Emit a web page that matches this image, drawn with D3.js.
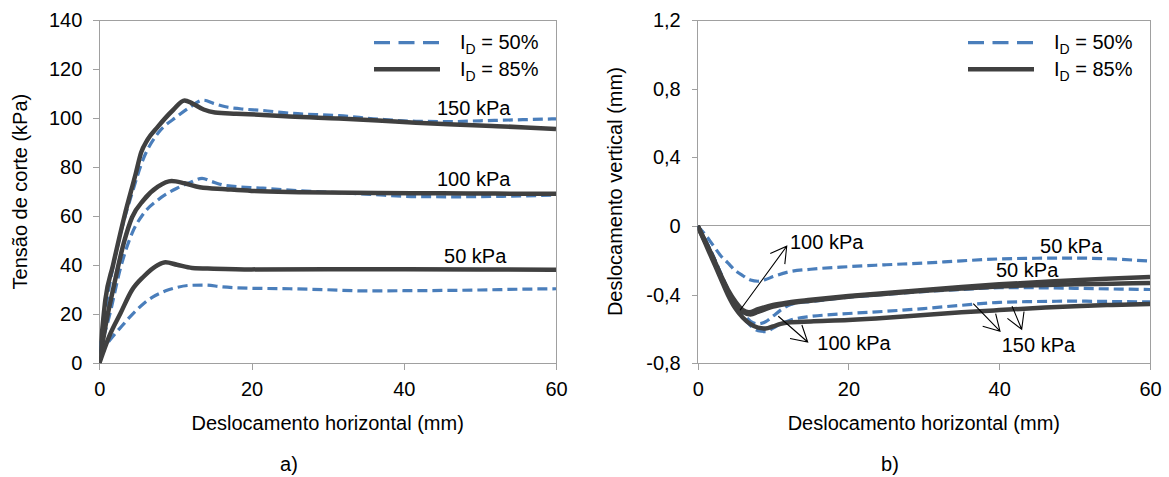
<!DOCTYPE html>
<html>
<head>
<meta charset="utf-8">
<script src="https://cdn.jsdelivr.net/npm/d3@7"></script>
<style>
  body { margin: 0; background: #fff; }
  svg { display: block; }
  text { font-family: "Liberation Sans", Arial, sans-serif; fill: #000; }
</style>
</head>
<body>
<svg id="chart" width="1169" height="477"></svg>
<script>
// ---- Shear stress vs horizontal displacement, [mm, kPa] ----
const shearID50_50  = [[0,4],[1,8],[2,11.8],[3,15.3],[4,18.8],[5,22],[6,24.8],[7,27],[8,28.6],[9,29.9],[10,30.8],[12,31.8],[14,31.9],[16,31.2],[20,30.6],[25,30.4],[30,30],[35,29.5],[40,29.6],[45,29.7],[50,29.9],[55,30.2],[60,30.4]];
const shearID50_100 = [[0,5],[1.3,19],[2.8,39],[4.3,53],[5.8,61],[7.7,66.6],[10.2,71.4],[12,73.8],[13.5,75.4],[14.7,74.2],[16.6,72.5],[21.5,71.4],[26,70.4],[31.5,69.6],[36,68.8],[41.6,68],[47,67.9],[53,68.1],[60,68.6]];
const shearID50_150 = [[0,5],[0.5,15],[1.3,31],[2.8,53],[4.3,69.3],[5.8,83.5],[7.7,93.8],[10.2,100.6],[11.7,104],[13.7,107.3],[15,106],[16.6,104.6],[18.5,103.8],[21.5,103.1],[25,102],[31.5,101],[36.6,99.6],[41.6,98.7],[46.5,98.6],[50,98.9],[55,99.3],[60,99.7]];
const shearID85_50  = [[0,0],[1.3,11],[2.8,20.5],[4.3,29.9],[5.8,35.3],[7.7,40.1],[8.7,41.2],[10.2,40.2],[12.2,38.9],[15,38.6],[20,38.3],[30,38.4],[40,38.4],[50,38.3],[60,38.1]];
const shearID85_100 = [[0,0],[0.8,15],[1.8,30],[3.3,50],[4.3,59.5],[5.8,66.5],[7.7,72],[9.5,74.3],[11.2,73.4],[13.2,71.8],[16.6,71],[20,70.3],[26.6,69.8],[36.6,69.4],[45,69.3],[52,69.2],[60,69.1]];
const shearID85_150 = [[0,0],[0.8,26],[1.8,40],[3.3,60],[4.8,77.5],[5.5,86],[6.3,91],[7.7,96.5],[9.7,103.3],[11.2,107.2],[12.2,106],[13.7,103.5],[15.2,102.3],[18,101.8],[21.5,101.3],[25,100.6],[31.5,99.8],[36.6,99],[41.6,98.1],[46.6,97.4],[51.6,96.8],[56,96.2],[60,95.5]];

// ---- Vertical vs horizontal displacement, [mm, mm] ----
const vertID50_50  = [[0,0],[1,-0.05],[2,-0.11],[3,-0.17],[4,-0.215],[5,-0.26],[6,-0.29],[7,-0.315],[8,-0.322],[9,-0.312],[10,-0.295],[12,-0.268],[15,-0.252],[20,-0.237],[25,-0.226],[30,-0.216],[35,-0.203],[40,-0.192],[45,-0.188],[50,-0.187],[55,-0.192],[60,-0.205]];
const vertID50_100 = [[0,0],[1,-0.08],[2,-0.17],[3,-0.27],[4,-0.37],[5,-0.45],[6,-0.51],[7,-0.555],[8,-0.57],[9,-0.558],[10,-0.525],[11,-0.49],[12,-0.463],[13,-0.45],[15,-0.44],[20,-0.415],[25,-0.398],[30,-0.382],[35,-0.37],[40,-0.36],[45,-0.36],[50,-0.363],[55,-0.367],[60,-0.37]];
const vertID50_150 = [[0,0],[1,-0.08],[2,-0.17],[3,-0.27],[4,-0.37],[5,-0.46],[6,-0.53],[7,-0.58],[8,-0.61],[9,-0.615],[10,-0.595],[11,-0.57],[12,-0.553],[13,-0.54],[15,-0.527],[20,-0.51],[25,-0.497],[30,-0.481],[35,-0.462],[40,-0.445],[45,-0.44],[50,-0.438],[55,-0.44],[60,-0.442]];
const vertID85_50  = [[0,0],[1,-0.09],[2,-0.18],[3,-0.28],[4,-0.37],[5,-0.44],[6,-0.49],[6.8,-0.503],[8,-0.485],[10,-0.46],[12,-0.445],[15,-0.43],[20,-0.408],[25,-0.39],[30,-0.373],[35,-0.356],[40,-0.34],[45,-0.328],[50,-0.316],[55,-0.306],[60,-0.297]];
const vertID85_100 = [[0,0],[1,-0.09],[2,-0.185],[3,-0.29],[4,-0.38],[5,-0.45],[6,-0.5],[7,-0.515],[8,-0.5],[10,-0.47],[12,-0.452],[15,-0.435],[20,-0.412],[25,-0.395],[30,-0.378],[35,-0.364],[40,-0.352],[45,-0.345],[50,-0.34],[55,-0.336],[60,-0.332]];
const vertID85_150 = [[0,0],[1,-0.1],[2,-0.2],[3,-0.3],[4,-0.4],[5,-0.48],[6,-0.535],[7,-0.572],[8,-0.592],[9,-0.597],[10,-0.585],[11,-0.57],[12,-0.562],[15,-0.556],[20,-0.548],[25,-0.535],[30,-0.518],[35,-0.503],[40,-0.49],[45,-0.478],[50,-0.467],[55,-0.46],[60,-0.455]];

// ---- Ticks and labels ----
const xTicks = [0, 20, 40, 60];
const shearTicks = [0, 20, 40, 60, 80, 100, 120, 140];
const vertTicks = [-0.8, -0.4, 0, 0.4, 0.8, 1.2];
const legendLabels = ["50%", "85%"];

// pressure labels for panel a): [x mm, y kPa, text]
const shearNotes = [[44.36, 101.3, "150 kPa"], [44.36, 72.3, "100 kPa"], [45.29, 40.9, "50 kPa"]];
// pressure labels for panel b): [x mm, y mm, text]
const vertNotes = [[12.24, -0.137, "100 kPa"], [15.87, -0.724, "100 kPa"], [40.33, -0.734, "150 kPa"], [45.41, -0.16, "50 kPa"], [39.57, -0.30, "50 kPa"]];
// leader arrows for panel b): [x0, y0, x1, y1] (head at the second point)
const vertArrows = [[5.61, -0.491, 11.81, -0.118], [10.69, -0.526, 14.59, -0.676], [36.56, -0.452, 40.1, -0.613], [41.7, -0.467, 42.98, -0.602]];

// ---- Styles ----
const BLUE = "#4a7ebb", DARK = "#404040", AXIS = "#a0a0a0";
const FONT = 20;

const svg = d3.select("#chart");
const comma = d3.formatLocale({ decimal: ",", thousands: ".", grouping: [3], currency: ["", ""], minus: "-" });
const fmtVert = d => d === 0 ? "0" : comma.format(".1f")(d);

function panel(opts) {
  const { left, right, top, bottom, yDomain, yTicks, yFormat, yTitle, yTitleX, tag, tagX, id } = opts;
  const x = d3.scaleLinear().domain([0, 60]).range([left, right]);
  const y = d3.scaleLinear().domain(yDomain).range([bottom, top]);
  const g = svg.append("g");

  g.append("clipPath").attr("id", id).append("rect")
    .attr("x", left).attr("y", top).attr("width", right - left).attr("height", bottom - top);

  // plot frame
  g.append("rect").attr("x", left).attr("y", top).attr("width", right - left).attr("height", bottom - top)
    .attr("fill", "none").attr("stroke", AXIS).attr("stroke-width", 1).attr("shape-rendering", "crispEdges");

  const yAxis = g.append("g").attr("transform", `translate(${left},0)`)
    .call(d3.axisLeft(y).tickValues(yTicks).tickFormat(yFormat).tickSize(6).tickSizeOuter(0).tickPadding(11));
  const xAxis = g.append("g").attr("transform", `translate(0,${bottom})`)
    .call(d3.axisBottom(x).tickValues(xTicks).tickFormat(d3.format("d")).tickSize(7).tickSizeOuter(0).tickPadding(12));
  [xAxis, yAxis].forEach(a => {
    a.select(".domain").remove();
    a.selectAll(".tick line").attr("stroke", AXIS).attr("shape-rendering", "crispEdges");
    a.selectAll(".tick text").attr("font-size", FONT).attr("fill", "#000")
      .style("font-family", '"Liberation Sans", Arial, sans-serif');
  });

  g.append("text").attr("x", (left + right) / 2).attr("y", 430).attr("text-anchor", "middle")
    .attr("font-size", FONT).text("Deslocamento horizontal (mm)");
  g.append("text").attr("transform", `translate(${yTitleX},${(top + bottom) / 2}) rotate(-90)`)
    .attr("text-anchor", "middle").attr("font-size", FONT).text(yTitle);
  g.append("text").attr("x", tagX).attr("y", 471).attr("text-anchor", "middle")
    .attr("font-size", FONT).text(tag);

  // legend
  legendLabels.forEach((lab, i) => {
    const ly = [42.7, 69.3][i];
    g.append("line").attr("x1", right - 182).attr("x2", right - 116).attr("y1", ly).attr("y2", ly)
      .attr("stroke", i === 0 ? BLUE : DARK).attr("stroke-width", i === 0 ? 3.2 : 4.5)
      .attr("stroke-dasharray", i === 0 ? "16,8.5" : null);
    const t = g.append("text").attr("x", right - 96).attr("y", [49.3, 76][i]).attr("font-size", FONT);
    t.append("tspan").text("I");
    t.append("tspan").attr("font-size", 14).attr("dy", 5).text("D");
    t.append("tspan").attr("dy", -5).text(" = " + lab);
  });

  return { g, x, y };
}

const line = (x, y) => d3.line().x(d => x(d[0])).y(d => y(d[1])).curve(d3.curveMonotoneX);

function drawSeries(p, id, blues, darks) {
  const plot = p.g.append("g").attr("clip-path", `url(#${id})`);
  blues.forEach(s => plot.append("path").attr("d", line(p.x, p.y)(s)).attr("fill", "none")
    .attr("stroke", BLUE).attr("stroke-width", 3.2).attr("stroke-dasharray", "10,5").attr("stroke-linejoin", "round"));
  darks.forEach(s => plot.append("path").attr("d", line(p.x, p.y)(s)).attr("fill", "none")
    .attr("stroke", DARK).attr("stroke-width", 4.5).attr("stroke-linejoin", "round"));
}

// ---- Panel a) ----
const pa = panel({ left: 99.3, right: 556, top: 20, bottom: 363.3, yDomain: [0, 140], yTicks: shearTicks,
  yFormat: d3.format("d"), yTitle: "Tensão de corte (kPa)", yTitleX: 27, tag: "a)", tagX: 289, id: "clipA" });
drawSeries(pa, "clipA", [shearID50_50, shearID50_100, shearID50_150], [shearID85_50, shearID85_100, shearID85_150]);
shearNotes.forEach(n => pa.g.append("text").attr("x", pa.x(n[0])).attr("y", pa.y(n[1]))
  .attr("font-size", FONT).text(n[2]));

// ---- Panel b) ----
const pb = panel({ left: 697.7, right: 1150, top: 20, bottom: 363.3, yDomain: [-0.8, 1.2], yTicks: vertTicks,
  yFormat: fmtVert, yTitle: "Deslocamento vertical (mm)", yTitleX: 622, tag: "b)", tagX: 890, id: "clipB" });
pb.g.append("line").attr("x1", pb.x(0)).attr("x2", pb.x(60)).attr("y1", pb.y(0)).attr("y2", pb.y(0))
  .attr("stroke", AXIS).attr("stroke-width", 1).attr("shape-rendering", "crispEdges");
drawSeries(pb, "clipB", [vertID50_50, vertID50_100, vertID50_150], [vertID85_50, vertID85_100, vertID85_150]);
vertNotes.forEach(n => pb.g.append("text").attr("x", pb.x(n[0])).attr("y", pb.y(n[1]))
  .attr("font-size", FONT).text(n[2]));

// open-headed leader arrows
vertArrows.forEach(a => {
  const x0 = pb.x(a[0]), y0 = pb.y(a[1]), x1 = pb.x(a[2]), y1 = pb.y(a[3]);
  const ang = Math.atan2(y0 - y1, x0 - x1), L = 18, h = Math.PI / 6;
  const w1 = [x1 + L * Math.cos(ang + h), y1 + L * Math.sin(ang + h)];
  const w2 = [x1 + L * Math.cos(ang - h), y1 + L * Math.sin(ang - h)];
  pb.g.append("path")
    .attr("d", `M${x0},${y0}L${x1},${y1}M${w1[0]},${w1[1]}L${x1},${y1}L${w2[0]},${w2[1]}`)
    .attr("fill", "none").attr("stroke", "#000").attr("stroke-width", 1.1);
});
</script>
</body>
</html>
